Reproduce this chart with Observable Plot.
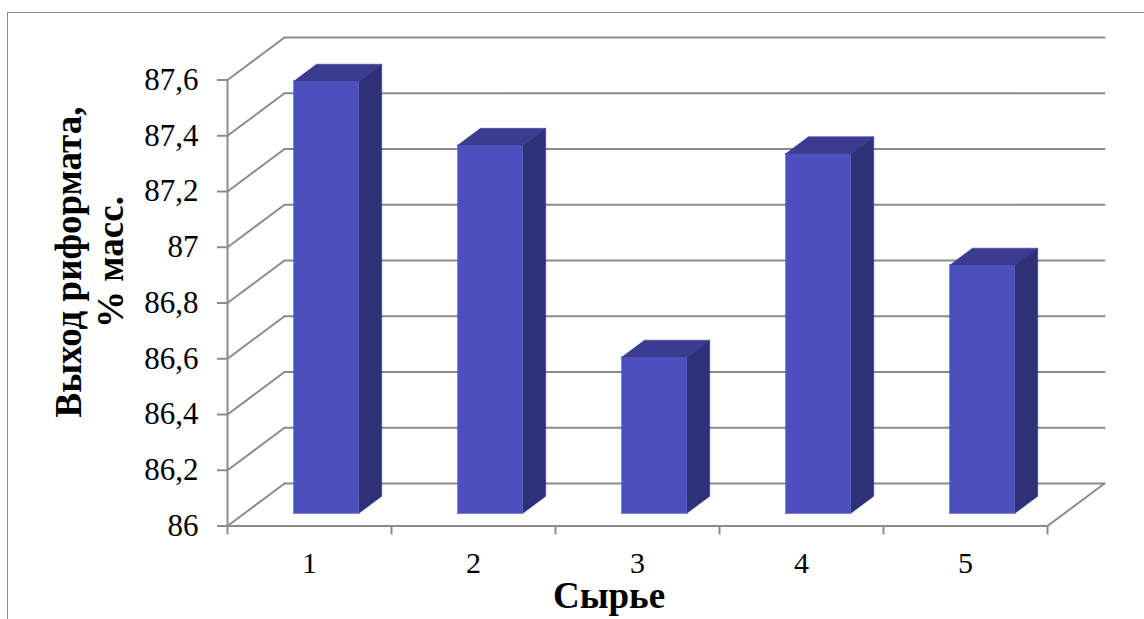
<!DOCTYPE html>
<html lang="ru">
<head>
<meta charset="utf-8">
<title>Выход риформата</title>
<script src="https://cdn.jsdelivr.net/npm/d3@7"></script>
<script src="https://cdn.jsdelivr.net/npm/@observablehq/plot@0.6"></script>
<style>
  html, body { margin: 0; padding: 0; background: #fff; overflow: hidden; }
  #sheet { position: relative; width: 1144px; height: 619px; }
  #sheet::before {
    content: ""; position: absolute; left: 7px; top: 12px; right: 0; bottom: 0;
    border-left: 1px solid #8c8c8c; border-top: 1px solid #8c8c8c;
  }
  #sheet svg { position: absolute; left: 0; top: 0; }
</style>
</head>
<body>
<div id="sheet"></div>
<script>
// Reformate yield per feedstock
const categories = ["1", "2", "3", "4", "5"];
const yieldValues = [87.55, 87.32, 86.56, 87.29, 86.89];
const yTicks = [86, 86.2, 86.4, 86.6, 86.8, 87, 87.2, 87.4, 87.6];
const yTickLabels = ["86", "86,2", "86,4", "86,6", "86,8", "87", "87,2", "87,4", "87,6"];
const xBoundaries = [0, 1, 2, 3, 4, 5];

// Oblique projection: a point at depth d (0 = front, 1 = back wall) shifts
// along both axes in data units, so it still goes through the plot's scales.
const depthX = 0.3476;
const depthY = 0.1525;
const at = (x, y, d) => ({x: x + d * depthX, y: y + d * depthY});

// Columns occupy the middle of the depth and 40% of each category's width.
const barLeft = 0.297, barRight = 0.697, barFront = 0.3, barBack = 0.7;
const base = yTicks[0];
const tickDrop = 0.032;

function face(key, corners) {
  return corners.map(([x, y, d]) => ({key, ...at(x, y, d)}));
}

const frontFaces = [], topFaces = [], sideFaces = [];
yieldValues.forEach((v, i) => {
  const l = i + barLeft, r = i + barRight;
  frontFaces.push(...face(i, [[l, base, barFront], [r, base, barFront], [r, v, barFront], [l, v, barFront]]));
  topFaces.push(...face(i, [[l, v, barFront], [r, v, barFront], [r, v, barBack], [l, v, barBack]]));
  sideFaces.push(...face(i, [[r, base, barFront], [r, base, barBack], [r, v, barBack], [r, v, barFront]]));
});

// Wall grid lines, the left wall's diagonals and the right edge of the floor
const wallLines = yTicks.flatMap((v) => [
  {key: v, ...at(0, v, 1)},
  {key: v, ...at(5, v, 1)}
]);
const leftDiagonals = yTicks.flatMap((v) => [
  {key: v, ...at(0, v, 0)},
  {key: v, ...at(0, v, 1)}
]);
const floorEdge = [at(5, base, 0), at(5, base, 1)];

const lineColor = "#8c8c8c";
const gridStyle = {x: "x", y: "y", z: "key", stroke: lineColor, strokeWidth: 2, curve: "linear"};

const chart = Plot.plot({
  width: 1144,
  height: 619,
  marginLeft: 227,
  marginRight: 97,
  marginTop: 79.5,
  marginBottom: 93.5,
  style: {background: "transparent", fontFamily: "'Liberation Serif', serif", color: "#000"},
  x: {domain: [0, 5], axis: null},
  y: {domain: [86, 87.6], axis: null},
  marks: [
    Plot.line(wallLines, gridStyle),
    Plot.line(leftDiagonals, gridStyle),
    Plot.line(floorEdge, {x: "x", y: "y", stroke: lineColor, strokeWidth: 2}),
    Plot.ruleY([base], {x1: 0, x2: 5, stroke: lineColor, strokeWidth: 2}),
    Plot.ruleX([0], {y1: 86, y2: 87.6, stroke: lineColor, strokeWidth: 2}),
    Plot.axisY(yTicks, {
      anchor: "left",
      label: null,
      stroke: lineColor,
      strokeWidth: 2,
      tickSize: 10,
      tickPadding: 19,
      fontSize: 31,
      tickFormat: (d) => yTickLabels[yTicks.indexOf(d)]
    }),
    // Category boundaries on the front edge of the floor
    Plot.ruleX(xBoundaries, {
      y1: () => base,
      y2: () => base - tickDrop,
      stroke: lineColor,
      strokeWidth: 2
    }),
    Plot.text(categories, {
      x: (d, i) => i + 0.5,
      y: () => base,
      text: (d) => d,
      dy: 37.5,
      fontSize: 30,
      fill: "#000"
    }),
    Plot.line(frontFaces, {x: "x", y: "y", z: "key", fill: "#4c50be", stroke: "#5d61c8", strokeWidth: 1}),
    Plot.line(topFaces, {x: "x", y: "y", z: "key", fill: "#393c90", stroke: "#393c90", strokeWidth: 0.5}),
    Plot.line(sideFaces, {x: "x", y: "y", z: "key", fill: "#2f3178", stroke: "#2f3178", strokeWidth: 0.5}),
    Plot.text(["Сырье"], {
      frameAnchor: "bottom",
      dx: -28.5,
      dy: 82,
      fontSize: 37,
      fontWeight: "bold",
      fill: "#000"
    }),
    Plot.text(["Выход риформата,\n% масс."], {
      frameAnchor: "left",
      textAnchor: "middle",
      rotate: -90,
      dx: -138.5,
      dy: -41,
      lineHeight: 1.13,
      fontSize: 37,
      fontWeight: "bold",
      fill: "#000"
    })
  ]
});

document.getElementById("sheet").appendChild(chart);
</script>
</body>
</html>
